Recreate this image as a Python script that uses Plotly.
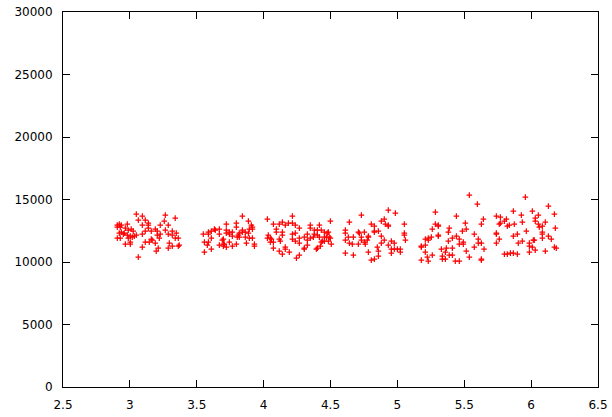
import plotly.graph_objects as go

# Cluster 1 (around x = 2.9 - 3.37)
c1_x = [3.048, 3.093, 3.063, 3.115, 3.138, 3.093, 3.138, 3.138, 3.265, 3.339, 3.257, 3.287, 3.227,
        2.906, 2.921, 2.936, 2.906, 2.928, 2.981, 2.966, 2.988, 3.010, 3.025, 3.190, 3.205, 3.160,
        3.115, 3.265, 3.317, 2.921, 2.936, 2.951, 2.958, 3.093, 3.048, 2.981, 3.003, 3.018, 3.033,
        2.988, 2.906, 2.928, 3.227, 3.205, 3.287, 3.347, 3.317, 3.339, 3.362, 3.220, 3.160, 3.167,
        3.115, 3.145, 3.190, 3.003, 3.003, 2.966, 3.295, 3.317, 3.287, 3.362, 3.369, 3.212, 3.197,
        3.093, 3.063]
c1_y = [13832, 13672, 13352, 13352, 13112, 12951, 12951, 12711, 13752, 13512, 13272, 12951, 12951,
        12951, 13031, 12951, 12791, 12791, 13031, 12711, 12551, 12631, 12471, 12631, 12471, 12471,
        12471, 12551, 12471, 12311, 12391, 12231, 12311, 12231, 12150, 12150, 12070, 11990, 12070,
        11910, 11910, 11910, 12231, 12150, 12231, 12311, 12150, 11910, 11910, 11910, 11830, 11750,
        11590, 11590, 11510, 11590, 11430, 11430, 11510, 11269, 11109, 11269, 11349, 11109, 10869,
        11189, 10388]

# Cluster 2 (around x = 3.55 - 3.93)
c2_x = [3.841, 3.886, 3.908, 3.916, 3.916, 3.893, 3.796, 3.796, 3.721, 3.721, 3.721, 3.744, 3.744,
        3.766, 3.766, 3.841, 3.841, 3.818, 3.811, 3.818, 3.803, 3.863, 3.886, 3.863, 3.893, 3.916,
        3.669, 3.669, 3.632, 3.639, 3.609, 3.587, 3.587, 3.549, 3.609, 3.557, 3.587, 3.579, 3.609,
        3.557, 3.669, 3.699, 3.706, 3.699, 3.721, 3.691, 3.699, 3.744, 3.766, 3.796, 3.871, 3.931,
        3.931]
c2_y = [13672, 13272, 12951, 12791, 12631, 12631, 13112, 12791, 13031, 12551, 12311, 12391, 12231,
        12391, 12070, 12551, 12391, 12311, 12150, 11990, 11990, 12391, 12311, 11990, 11910, 11910,
        12631, 12231, 12631, 12551, 12471, 12391, 12231, 12231, 11910, 11590, 11590, 11349, 11029,
        10789, 11349, 11430, 11430, 11269, 11189, 11750, 11830, 11590, 11269, 11430, 11510, 11430,
        11269]

# Cluster 3 (around x = 4.03 - 4.51)
c3_x = [4.028, 4.073, 4.117, 4.140, 4.162, 4.185, 4.215, 4.215, 4.237, 4.267, 4.095, 4.095, 4.140,
        4.140, 4.035, 4.028, 4.050, 4.058, 4.050, 4.073, 4.117, 4.125, 4.073, 4.117, 4.140, 4.162,
        4.162, 4.192, 4.215, 4.237, 4.215, 4.237, 4.267, 4.267, 4.245, 4.267, 4.304, 4.304, 4.304,
        4.327, 4.327, 4.327, 4.349, 4.349, 4.349, 4.379, 4.379, 4.372, 4.402, 4.402, 4.417, 4.431,
        4.417, 4.454, 4.454, 4.484, 4.476, 4.469, 4.491, 4.499, 4.499, 4.439, 4.431, 4.424, 4.402,
        4.394, 4.454, 4.484, 4.506]
c3_y = [13432, 13031, 13031, 13192, 12951, 13112, 13672, 13112, 12951, 12711, 12631, 12391, 12391,
        12150, 12150, 11910, 11910, 11830, 11590, 11590, 11830, 11670, 11109, 10869, 10629, 11189,
        11029, 10789, 12231, 12311, 11830, 11670, 11910, 11510, 10308, 10548, 11990, 11109, 11029,
        12231, 11349, 11750, 12951, 12711, 11910, 12551, 12231, 11990, 12551, 12150, 12951, 12551,
        11990, 12391, 11990, 12391, 12311, 11990, 11990, 11910, 13272, 11670, 11590, 11269, 11109,
        11029, 11670, 11670, 11430]

# Cluster 4 (around x = 4.61 - 5.06)
c4_x = [4.932, 4.985, 4.731, 4.641, 4.805, 4.828, 4.880, 4.902, 4.910, 4.932, 4.932, 5.052, 4.611,
        4.611, 4.633, 4.671, 4.708, 4.716, 4.753, 4.828, 4.828, 4.858, 4.731, 4.731, 4.783, 4.783,
        4.775, 4.611, 4.641, 4.663, 4.708, 4.753, 4.760, 4.880, 4.880, 4.902, 4.955, 4.977, 4.932,
        4.850, 4.858, 4.858, 4.805, 4.828, 4.783, 4.671, 4.611, 4.955, 4.977, 5.000, 5.022, 5.022,
        4.955, 5.052, 5.052, 5.060]
c4_y = [14153, 13913, 13752, 13192, 13031, 12871, 13272, 13432, 13031, 12951, 12871, 13031, 12551,
        12311, 11990, 11990, 12391, 12311, 12391, 12471, 12391, 12471, 11990, 11750, 12070, 11990,
        11750, 11750, 11510, 11430, 11430, 11590, 11430, 12070, 11510, 11750, 11670, 11510, 11349,
        11189, 10869, 10468, 10148, 10228, 10789, 10548, 10709, 11029, 11029, 11029, 11029, 10789,
        10709, 12311, 12150, 11750]

# Cluster 5 (around x = 5.18 - 5.64)
c5_x = [5.538, 5.598, 5.284, 5.441, 5.284, 5.306, 5.306, 5.261, 5.388, 5.381, 5.508, 5.486, 5.515,
        5.628, 5.643, 5.209, 5.231, 5.231, 5.254, 5.306, 5.306, 5.411, 5.441, 5.463, 5.493, 5.493,
        5.463, 5.381, 5.575, 5.605, 5.605, 5.628, 5.179, 5.179, 5.209, 5.209, 5.329, 5.366, 5.359,
        5.411, 5.515, 5.575, 5.538, 5.388, 5.411, 5.336, 5.336, 5.359, 5.261, 5.224, 5.179, 5.231,
        5.433, 5.463, 5.628, 5.628]
c5_y = [15354, 14633, 13993, 13672, 13031, 12951, 12871, 12631, 12711, 12391, 13112, 12471, 12631,
        13031, 13432, 11830, 11910, 11750, 11990, 12150, 12070, 11910, 12070, 11830, 11590, 11430,
        11430, 11670, 12231, 11830, 11510, 11510, 11269, 11189, 11349, 10789, 11029, 11109, 10789,
        11109, 10869, 11189, 10388, 10548, 10548, 10468, 10228, 10228, 10548, 10388, 10148, 10068,
        10068, 10068, 10228, 10148]

# Cluster 6 (around x = 5.65 - 6.19)
c6_x = [5.957, 6.129, 5.867, 6.009, 5.927, 6.054, 6.174, 5.740, 5.770, 5.815, 5.800, 5.770, 5.762,
        6.031, 6.031, 5.934, 5.874, 5.837, 5.822, 6.054, 6.061, 6.084, 6.106, 6.181, 5.964, 5.740,
        5.740, 5.897, 5.867, 6.084, 6.084, 6.129, 6.084, 6.151, 5.762, 6.016, 6.024, 5.934, 5.904,
        5.987, 5.987, 6.009, 6.031, 5.740, 6.174, 6.188, 6.106, 5.987, 5.800, 5.822, 5.845, 5.867,
        5.897, 5.648]
c6_y = [15194, 14473, 14073, 14073, 13752, 13752, 13832, 13672, 13592, 13432, 13272, 13112, 13031,
        13512, 13272, 13192, 13031, 12951, 12871, 13031, 12791, 12871, 13192, 12711, 12471, 12311,
        12231, 12231, 12070, 12391, 12231, 12070, 11910, 11830, 11830, 11750, 11750, 11670, 11510,
        11510, 11269, 11189, 10949, 11510, 11189, 11109, 10869, 10789, 10629, 10629, 10709, 10709,
        10629, 11029]

x_vals = c1_x + c2_x + c3_x + c4_x + c5_x + c6_x
y_vals = c1_y + c2_y + c3_y + c4_y + c5_y + c6_y

x_ticks = [2.5, 3, 3.5, 4, 4.5, 5, 5.5, 6, 6.5]
x_tick_text = ["2.5", "3", "3.5", "4", "4.5", "5", "5.5", "6", "6.5"]
y_ticks = [0, 5000, 10000, 15000, 20000, 25000, 30000]
y_tick_text = ["0", "5000", "10000", "15000", "20000", "25000", "30000"]

fig = go.Figure()
fig.add_trace(go.Scatter(
    x=x_vals, y=y_vals, mode="markers",
    marker=dict(symbol="cross-thin", size=4, color="#ff0000",
                line=dict(color="#ff0000", width=1.2)),
    showlegend=False, hoverinfo="x+y",
))

axis_common = dict(
    showgrid=False, zeroline=False, showline=True, linecolor="black", linewidth=1,
    mirror="allticks", ticks="inside", ticklen=7, tickcolor="black", tickwidth=1,
    tickfont=dict(family="DejaVu Sans", size=12, color="black"),
    automargin=False, ticklabeloverflow="allow",
)

fig.update_layout(
    width=612, height=417,
    margin=dict(l=63, r=14, t=12, b=30),
    paper_bgcolor="white", plot_bgcolor="white",
    xaxis=dict(range=[2.5, 6.5], tickvals=x_ticks, ticktext=x_tick_text,
               ticklabelstandoff=7, **axis_common),
    yaxis=dict(range=[0, 30000], tickvals=y_ticks, ticktext=y_tick_text,
               ticklabelstandoff=7, **axis_common),
)

# remove the default page margin so the figure fills the 612x417 window exactly
fig.write_html("out.html", config={"displayModeBar": False},
               post_script="document.body.style.margin='0px';")
